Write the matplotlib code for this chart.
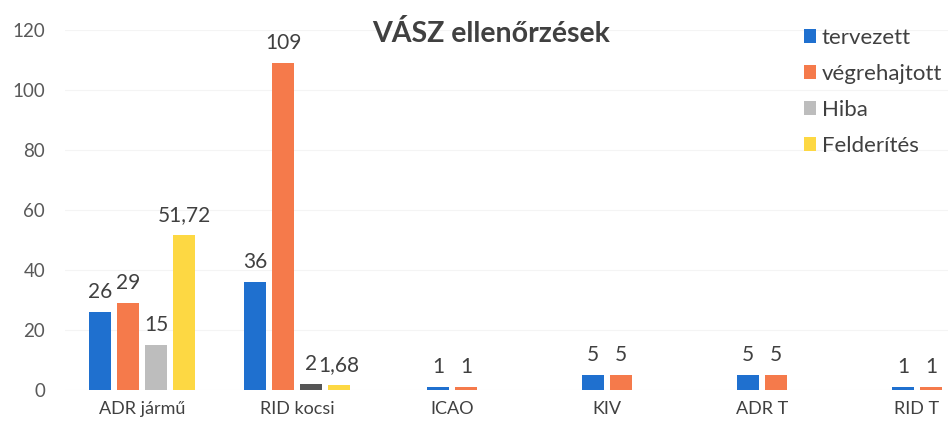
import matplotlib
matplotlib.use("Agg")
import matplotlib.pyplot as plt
from matplotlib.patches import Patch

categories = ["ADR jármű", "RID kocsi", "ICAO", "KIV", "ADR T", "RID T"]
tervezett = [26, 36, 1, 5, 5, 1]
vegrehajtott = [29, 109, 1, 5, 5, 1]
hiba = [15, 2, None, None, None, None]
felderites = [51.72, 1.68, None, None, None, None]
series_names = ["tervezett", "végrehajtott", "Hiba", "Felderítés"]
y_ticks = [0, 20, 40, 60, 80, 100, 120]

series = [tervezett, vegrehajtott, hiba, felderites]
colors = ["#1F70CF", "#F57A4B", "#BDBDBD", "#FDD843"]
colors_special = {(2, 1): "#555555"}

plt.rcParams['font.family'] = ['Lato', 'DejaVu Sans']

fig = plt.figure(figsize=(9.48, 4.23), dpi=100)
W, H = 948, 423
left_px, right_px = 64.5, 948
bottom_px, top_px = 390, 30
ax = fig.add_axes([left_px / W, (H - bottom_px) / H, (right_px - left_px) / W, (bottom_px - top_px) / H])

cat_px = 155.0
ax.set_xlim(-0.5, -0.5 + (right_px - left_px) / cat_px)
ax.set_ylim(0, 120)

bar_w = 22.5 / cat_px
step = 28 / cat_px

def fmt(v):
    if float(v).is_integer():
        return str(int(v))
    return ("%g" % v).replace(".", ",")

for ci, cat in enumerate(categories):
    present = [si for si in range(4) if series[si][ci] is not None]
    n = len(present)
    for k, si in enumerate(present):
        v = series[si][ci]
        x = ci + (k - (n - 1) / 2) * step
        c = colors_special.get((si, ci), colors[si])
        ax.bar(x, v, width=bar_w, color=c, linewidth=0)
        ax.text(x, v + 3.2, fmt(v), ha="center", va="bottom", fontsize=15, color="#404040")

ax.set_yticks(y_ticks)
ax.set_xticks(range(len(categories)))
ax.set_xticklabels(categories)
ax.tick_params(axis="y", length=0, pad=14, labelsize=13.5, labelcolor="#595959")
ax.tick_params(axis="x", length=0, pad=8, labelsize=13, labelcolor="#404040")
for s in ax.spines.values():
    s.set_visible(False)
ax.grid(axis="y", color="#F4F4F4", linewidth=0.8)
ax.set_axisbelow(True)

fig.text(491 / W, 1 - 34 / H, "VÁSZ ellenőrzések", ha="center", va="center",
         fontsize=20.5, fontweight="bold", color="#404040")

handles = [Patch(facecolor=c, edgecolor="none") for c in colors]
leg = fig.legend(handles, series_names, loc="upper left", bbox_to_anchor=(804 / W, 1 - 28 / H),
                 frameon=False, fontsize=16, handlelength=0.55, handleheight=0.55,
                 handletextpad=0.25, labelspacing=0.72, borderaxespad=0, borderpad=0)
for t in leg.get_texts():
    t.set_color("#404040")

fig.savefig("out.png", dpi=100)
